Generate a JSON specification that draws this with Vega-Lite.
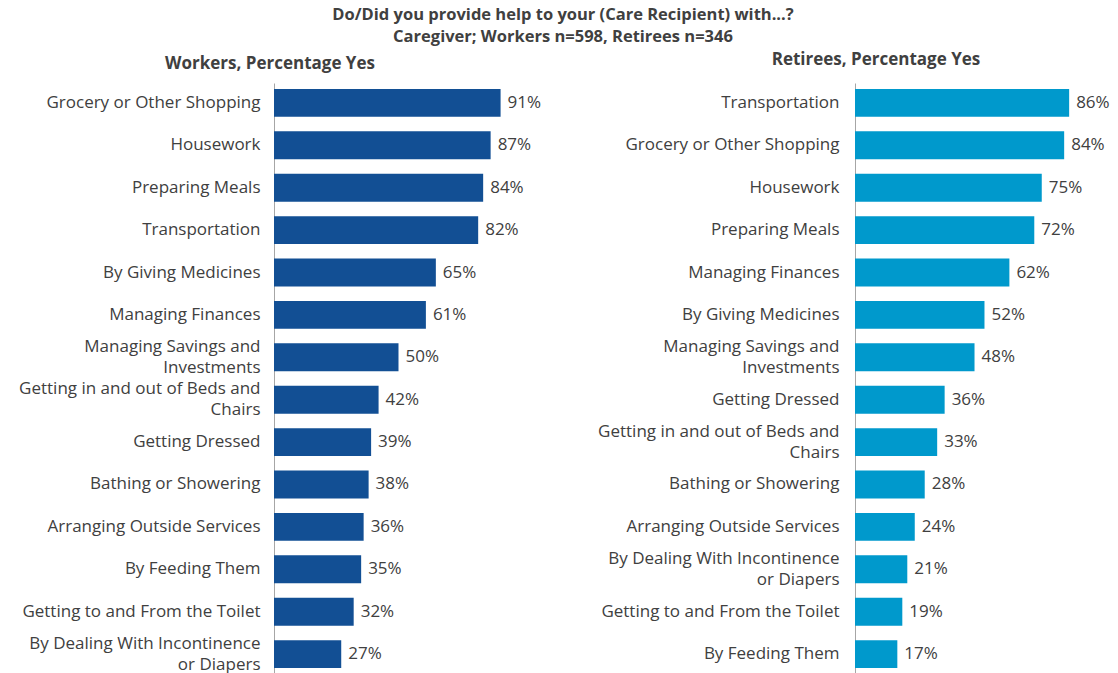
{
  "$schema": "https://vega.github.io/schema/vega-lite/v6.json",
  "background": "white",
  "padding": {"left": 8, "top": 6, "right": 0, "bottom": 0},
  "title": {
    "text": ["Do/Did you provide help to your (Care Recipient) with...?", "Caregiver; Workers n=598, Retirees n=346"],
    "anchor": "middle",
    "font": "Open Sans",
    "fontSize": 16.5,
    "fontWeight": "bold",
    "color": "#404040",
    "lineHeight": 22,
    "offset": 6
  },
  "config": {
    "view": {"stroke": null},
    "font": "Open Sans",
    "concat": {"spacing": 0}
  },
  "data": {
    "values": [
      {"group": "Workers", "task": "Grocery or Other Shopping", "pct": 0.91},
      {"group": "Workers", "task": "Housework", "pct": 0.87},
      {"group": "Workers", "task": "Preparing Meals", "pct": 0.84},
      {"group": "Workers", "task": "Transportation", "pct": 0.82},
      {"group": "Workers", "task": "By Giving Medicines", "pct": 0.65},
      {"group": "Workers", "task": "Managing Finances", "pct": 0.61},
      {"group": "Workers", "task": "Managing Savings and|Investments", "pct": 0.50},
      {"group": "Workers", "task": "Getting in and out of Beds and|Chairs", "pct": 0.42},
      {"group": "Workers", "task": "Getting Dressed", "pct": 0.39},
      {"group": "Workers", "task": "Bathing or Showering", "pct": 0.38},
      {"group": "Workers", "task": "Arranging Outside Services", "pct": 0.36},
      {"group": "Workers", "task": "By Feeding Them", "pct": 0.35},
      {"group": "Workers", "task": "Getting to and From the Toilet", "pct": 0.32},
      {"group": "Workers", "task": "By Dealing With Incontinence|or Diapers", "pct": 0.27},
      {"group": "Retirees", "task": "Transportation", "pct": 0.86},
      {"group": "Retirees", "task": "Grocery or Other Shopping", "pct": 0.84},
      {"group": "Retirees", "task": "Housework", "pct": 0.75},
      {"group": "Retirees", "task": "Preparing Meals", "pct": 0.72},
      {"group": "Retirees", "task": "Managing Finances", "pct": 0.62},
      {"group": "Retirees", "task": "By Giving Medicines", "pct": 0.52},
      {"group": "Retirees", "task": "Managing Savings and|Investments", "pct": 0.48},
      {"group": "Retirees", "task": "Getting Dressed", "pct": 0.36},
      {"group": "Retirees", "task": "Getting in and out of Beds and|Chairs", "pct": 0.33},
      {"group": "Retirees", "task": "Bathing or Showering", "pct": 0.28},
      {"group": "Retirees", "task": "Arranging Outside Services", "pct": 0.24},
      {"group": "Retirees", "task": "By Dealing With Incontinence|or Diapers", "pct": 0.21},
      {"group": "Retirees", "task": "Getting to and From the Toilet", "pct": 0.19},
      {"group": "Retirees", "task": "By Feeding Them", "pct": 0.17}
    ]
  },
  "hconcat": [
    {
      "title": {"text": "Workers, Percentage Yes", "fontSize": 17, "fontWeight": "bold", "color": "#404040", "anchor": "middle", "frame": "bounds", "dx": -11, "offset": 10},
      "width": 280,
      "height": 591,
      "transform": [{"filter": "datum.group === 'Workers'"}],
      "encoding": {
        "y": {
          "field": "task", "type": "nominal",
          "sort": {"field": "pct", "order": "descending"},
          "scale": {"paddingInner": 0.342, "paddingOuter": 0.141},
          "axis": {"title": null, "domain": true, "domainColor": "#a6a6a6", "ticks": false, "labelPadding": 14, "labelFontSize": 17, "labelColor": "#404040", "labelFont": "Open Sans", "labelLimit": 300, "labelExpr": "split(datum.label, '|')", "labelLineHeight": 21, "labelOffset": {"condition": {"test": "indexof(datum.label, '|') >= 0", "value": -10.5}, "value": 0}, "minExtent": 266, "maxExtent": 266}
        },
        "x": {"field": "pct", "type": "quantitative", "scale": {"domain": [0, 1.1245]}, "axis": null}
      },
      "layer": [
        {"mark": {"type": "bar", "color": "#124F94"}},
        {"mark": {"type": "text", "align": "left", "dx": 7, "fontSize": 17, "color": "#404040"}, "encoding": {"text": {"field": "pct", "format": ".0%"}}}
      ]
    },
    {
      "title": {"text": "Retirees, Percentage Yes", "fontSize": 17, "fontWeight": "bold", "color": "#404040", "anchor": "middle", "frame": "bounds", "dx": 40, "offset": 14},
      "width": 263,
      "height": 591,
      "transform": [{"filter": "datum.group === 'Retirees'"}],
      "encoding": {
        "y": {
          "field": "task", "type": "nominal",
          "sort": {"field": "pct", "order": "descending"},
          "scale": {"paddingInner": 0.342, "paddingOuter": 0.141},
          "axis": {"title": null, "domain": true, "domainColor": "#a6a6a6", "ticks": false, "labelPadding": 16, "labelFontSize": 17, "labelColor": "#404040", "labelFont": "Open Sans", "labelLimit": 300, "labelExpr": "split(datum.label, '|')", "labelLineHeight": 21, "labelOffset": {"condition": {"test": "indexof(datum.label, '|') >= 0", "value": -10.5}, "value": 0}, "minExtent": 301, "maxExtent": 301}
        },
        "x": {"field": "pct", "type": "quantitative", "scale": {"domain": [0, 1.0562]}, "axis": null}
      },
      "layer": [
        {"mark": {"type": "bar", "color": "#0099CC"}},
        {"mark": {"type": "text", "align": "left", "dx": 7, "fontSize": 17, "color": "#404040"}, "encoding": {"text": {"field": "pct", "format": ".0%"}}}
      ]
    }
  ]
}
